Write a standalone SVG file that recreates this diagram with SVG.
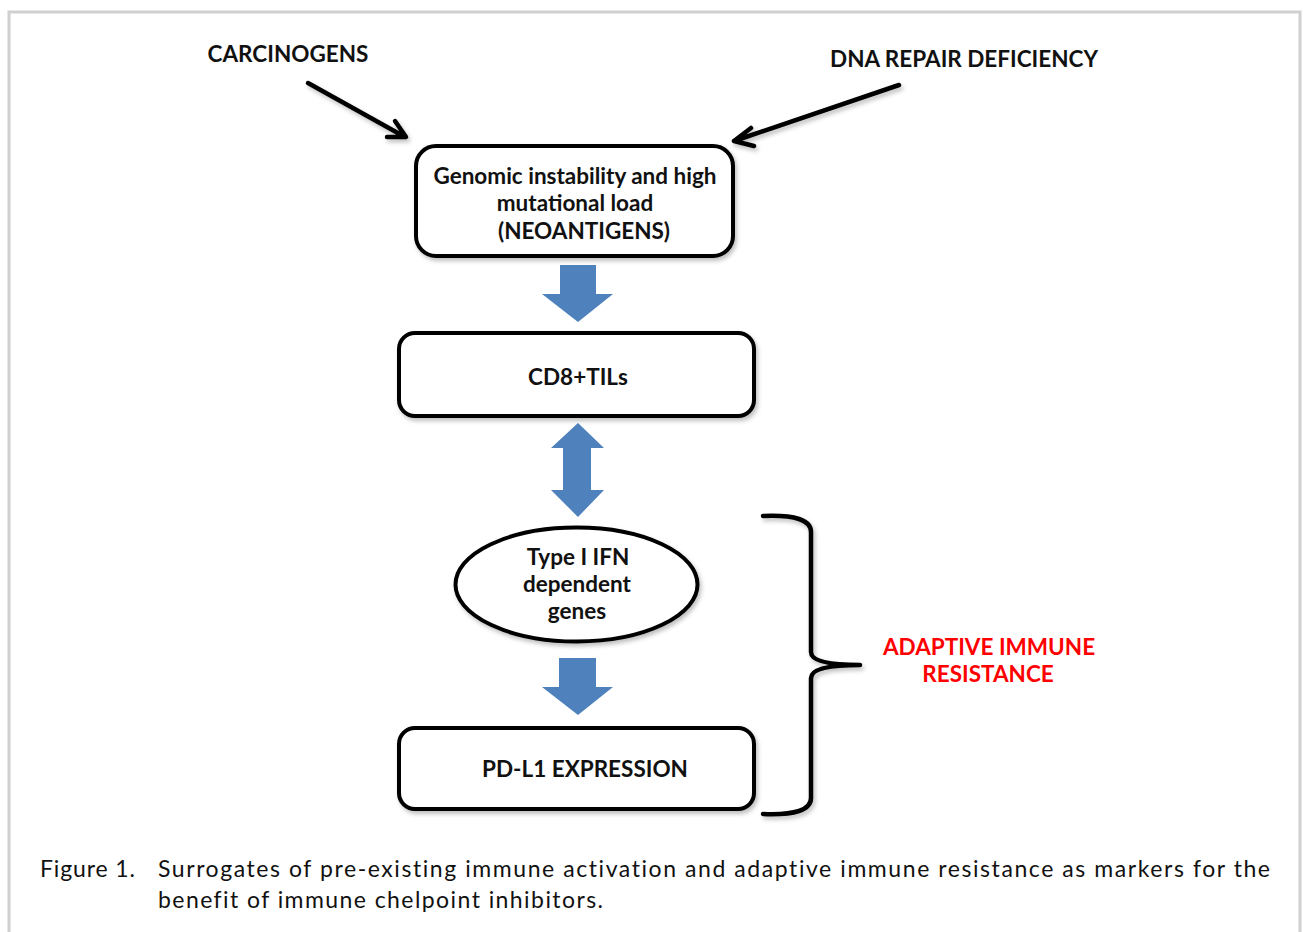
<svg xmlns="http://www.w3.org/2000/svg" width="1303" height="932" viewBox="0 0 1303 932">
<defs>
<style>
.lbl{font-family:Lato,"Liberation Sans",sans-serif;font-weight:bold;font-size:22.5px;fill:#111;text-anchor:middle}
.red{fill:#FF0000}
.box{fill:#fff;stroke:#000;stroke-width:4}
.blue{fill:#4F81BD}
.blk{fill:none;stroke:#000;stroke-width:4.5;stroke-linecap:round;stroke-linejoin:round}
.cap{font-family:Lato,"Liberation Sans",sans-serif;font-size:23px;fill:#111;font-variant-ligatures:none}
</style>
<filter id="sh" x="-10%" y="-10%" width="130%" height="130%">
<feDropShadow dx="2" dy="3" stdDeviation="2" flood-color="#000" flood-opacity="0.25"/>
</filter>
</defs>
<rect width="1303" height="932" fill="#fff"/>
<path d="M9,940 V12 H1300 V940" fill="none" stroke="#d0d0d0" stroke-width="3"/>

<g id="carcinogens"><text class="lbl" x="288" y="62">CARCINOGENS</text></g>
<g id="dna-repair"><text class="lbl" x="964" y="67">DNA REPAIR DEFICIENCY</text></g>

<g id="genomic">
<rect class="box" x="416" y="146" width="317" height="110" rx="20" filter="url(#sh)"/>
<text class="lbl" x="575" y="184">Genomic instability and high</text>
<text class="lbl" x="575" y="211">mutational load</text>
<text class="lbl" x="584" y="239">(NEOANTIGENS)</text>
</g>

<g id="cd8">
<rect class="box" x="399" y="333" width="355" height="83" rx="16" filter="url(#sh)"/>
<text class="lbl" x="578" y="385">CD8+TILs</text>
</g>

<g id="ifn">
<ellipse class="box" cx="576.5" cy="584.5" rx="121" ry="57" filter="url(#sh)"/>
<text class="lbl" x="578" y="565">Type I IFN</text>
<text class="lbl" x="577" y="592">dependent</text>
<text class="lbl" x="577" y="619">genes</text>
</g>

<g id="pdl1">
<rect class="box" x="399" y="728" width="355" height="81" rx="16" filter="url(#sh)"/>
<text class="lbl" x="585" y="777">PD-L1 EXPRESSION</text>
</g>

<g id="air">
<text class="lbl red" x="989" y="655">ADAPTIVE IMMUNE</text>
<text class="lbl red" x="988" y="682">RESISTANCE</text>
</g>

<g id="connectors">
<g filter="url(#sh)">
<path class="blk" d="M308,83 L405,137 M395,121 L406,137 L387,137"/>
<path class="blk" d="M899,85 L734,141 M751,128 L734,141 L754,146"/>
<path class="blk" d="M763,516 Q811,514 811,532 L811,652 Q811,665 860,665 Q811,665 811,678 L811,798 Q811,816 763,814"/>
</g>
<polygon class="blue" points="560,265 596,265 596,294 613,294 578,322 542,294 560,294"/>
<polygon class="blue" points="578,423 604,448 591,448 591,490 604,490 578,517 551,490 563,490 563,448 551,448"/>
<polygon class="blue" points="559,658 596,658 596,687 613,687 578,715 542,687 559,687"/>
</g>

<g id="caption">
<text class="cap" x="40" y="877" textLength="95" lengthAdjust="spacing">Figure 1.</text>
<text class="cap" x="158" y="877" textLength="1112" lengthAdjust="spacing">Surrogates of pre-existing immune activation and adaptive immune resistance as markers for the</text>
<text class="cap" x="158" y="908" textLength="445" lengthAdjust="spacing">benefit of immune chelpoint inhibitors.</text>
</g>
</svg>
